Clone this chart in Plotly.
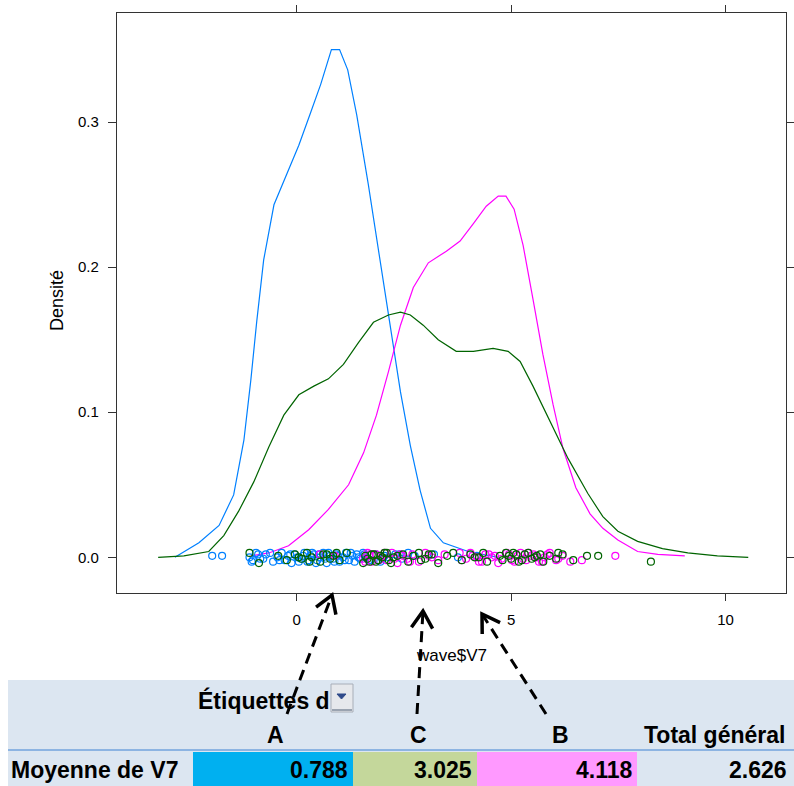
import math
import plotly.graph_objects as go

# ---------------- data ----------------
# density curves (x, density)
A_dx = [-2.84, -2.28, -1.81, -1.47, -1.23, -1.07, -0.93, -0.77, -0.53, -0.19,
        0.05, 0.33, 0.56, 0.81, 1.00, 1.19, 1.40, 1.67, 1.95, 2.19,
        2.42, 2.65, 2.88, 3.12, 3.42, 4.00, 4.70]
A_dy = [0.000, 0.010, 0.022, 0.043, 0.081, 0.122, 0.163, 0.205, 0.243, 0.267,
        0.284, 0.307, 0.326, 0.350, 0.350, 0.336, 0.305, 0.257, 0.203, 0.157,
        0.114, 0.077, 0.046, 0.020, 0.010, 0.004, 0.000]

B_dx = [-1.07, -0.65, -0.19, 0.28, 0.74, 1.21, 1.56, 1.86, 2.14, 2.42,
        2.72, 3.07, 3.49, 3.81, 4.12, 4.42, 4.70, 4.88, 5.07, 5.28,
        5.51, 5.74, 5.98, 6.21, 6.51, 6.84, 7.14, 7.49, 7.95, 8.42, 9.05]
B_dy = [0.001, 0.003, 0.008, 0.019, 0.033, 0.050, 0.072, 0.098, 0.128, 0.160,
        0.186, 0.203, 0.211, 0.218, 0.230, 0.242, 0.249, 0.249, 0.240, 0.215,
        0.178, 0.140, 0.105, 0.075, 0.048, 0.030, 0.020, 0.012, 0.004, 0.002, 0.001]

C_dx = [-3.23, -2.63, -2.05, -1.70, -1.35, -1.00, -0.65, -0.30, 0.05, 0.40,
        0.74, 1.09, 1.44, 1.79, 2.14, 2.42, 2.65, 2.95, 3.30, 3.72,
        4.12, 4.58, 4.93, 5.21, 5.51, 5.86, 6.33, 6.79, 7.14, 7.49,
        7.95, 8.53, 9.12, 9.81, 10.53]
C_dy = [0.000, 0.001, 0.004, 0.015, 0.032, 0.052, 0.076, 0.098, 0.112, 0.118,
        0.123, 0.133, 0.148, 0.162, 0.167, 0.169, 0.167, 0.160, 0.150, 0.142,
        0.142, 0.144, 0.142, 0.135, 0.118, 0.097, 0.068, 0.044, 0.028, 0.018,
        0.011, 0.006, 0.003, 0.001, 0.000]

# jittered rug points (x, y)
A_px = [-1.97, -1.74, -1.10, -1.02, -0.95, -0.85, -0.72, -0.55, -0.45, -0.35,
        -0.28, -0.20, -0.12, -0.05, 0.02, 0.10, 0.18, 0.25, 0.32, 0.40,
        0.48, 0.55, 0.62, 0.70, 0.78, 0.85, 0.92, 1.00, 1.08, 1.15,
        1.22, 1.30, 1.40, 1.48, 1.55, 1.62, 1.72, 1.85, 1.95, 2.05,
        2.15, 2.30, 2.45, 2.60, 2.75, 3.20, 3.76, 4.20,
        -1.05, -0.90, -0.78, -0.62, -0.40, -0.15, 0.05, 0.15, 0.28, 0.36,
        0.45, 0.52, 0.66, 0.74, 0.88, 0.96, 1.12, 1.26, 1.35, 1.44,
        1.58, 1.68, 1.80, 2.00, 2.40]
A_py = [0.001, 0.001, 0.000, -0.002, 0.003, -0.001, 0.002, -0.003, 0.000, 0.003,
        -0.002, 0.001, -0.004, 0.002, 0.000, -0.001, 0.003, -0.003, 0.001, 0.002,
        -0.002, 0.000, 0.003, -0.004, 0.001, -0.001, 0.002, -0.003, 0.000, 0.003,
        -0.002, 0.001, 0.002, -0.001, 0.003, 0.000, -0.002, 0.002, -0.003, 0.001,
        0.000, 0.002, -0.001, 0.003, 0.001, 0.002, 0.000, 0.001,
        -0.003, 0.002, -0.001, 0.003, -0.002, 0.002, -0.003, 0.001, -0.002, 0.003,
        -0.004, 0.002, -0.001, 0.003, -0.003, 0.001, -0.002, 0.003, -0.003, 0.000,
        0.002, -0.002, 0.001, -0.001, 0.002]

B_px = [0.54, 0.89, 1.55, 1.65, 1.75, 1.85, 1.98, 2.10, 2.22, 2.35,
        2.48, 2.58, 2.70, 2.85, 3.00, 3.15, 3.30, 3.45, 3.80, 3.95,
        4.10, 4.25, 4.40, 4.55, 4.70, 4.90, 5.02, 5.15, 5.28, 5.40,
        5.52, 5.65, 5.78, 5.90, 6.05, 6.20, 6.38, 6.65, 7.43,
        1.60, 1.70, 1.80, 1.92, 2.05, 2.28, 2.42, 2.64, 3.08, 3.85,
        4.05, 4.20, 4.32, 4.48, 4.62, 4.78, 4.95, 5.08, 5.22, 5.35,
        5.46, 5.60, 5.72, 5.85, 6.10]
B_py = [0.002, 0.001, -0.001, 0.003, -0.003, 0.002, 0.000, -0.002, 0.003, -0.004,
        0.001, -0.001, 0.002, -0.003, 0.003, 0.000, -0.002, 0.002, 0.003, -0.001,
        0.001, -0.003, 0.002, 0.000, -0.004, 0.003, -0.002, 0.001, -0.001, 0.003,
        0.002, -0.003, 0.000, 0.003, -0.002, 0.001, -0.003, -0.002, 0.001,
        -0.003, 0.002, 0.001, -0.002, 0.003, -0.001, 0.002, -0.003, 0.001, -0.002,
        0.003, 0.000, -0.003, 0.002, 0.001, -0.001, 0.002, -0.003, 0.003, -0.002,
        0.001, 0.000, -0.003, 0.002, -0.001]

C_px = [-1.10, -0.88, -0.43, -0.23, -0.04, 0.12, 0.24, 0.35, 0.55, 0.70,
        0.85, 1.00, 1.17, 1.55, 1.65, 1.75, 1.85, 1.95, 2.05, 2.15,
        2.26, 2.48, 2.60, 2.72, 2.85, 3.00, 3.15, 3.30, 3.51, 3.65,
        3.85, 4.05, 4.25, 4.44, 4.74, 4.88, 5.00, 5.12, 5.25, 5.40,
        5.55, 5.68, 5.75, 5.90, 6.05, 6.20, 6.45, 6.77, 7.03, 8.26,
        0.05, 0.30, 0.62, 0.78, 0.93, 1.60, 1.70, 1.80, 1.90, 2.00,
        2.10, 2.20, 2.35, 2.90, 3.08, 4.15, 4.35, 4.80, 4.95, 5.05,
        5.18, 5.32, 5.48, 5.60, 6.10]
C_py = [0.003, -0.004, 0.001, -0.002, 0.002, -0.001, 0.003, 0.000, -0.003, 0.002,
        0.001, -0.002, 0.003, -0.004, -0.001, 0.002, -0.003, 0.001, 0.003, -0.002,
        0.000, 0.002, -0.003, 0.001, 0.003, -0.001, 0.002, -0.004, 0.001, 0.003,
        -0.002, 0.002, 0.000, -0.003, 0.001, 0.003, -0.001, 0.002, -0.002, 0.003,
        0.000, 0.002, -0.003, 0.001, -0.001, 0.002, -0.002, 0.001, 0.001, -0.003,
        0.000, -0.003, 0.002, -0.001, 0.003, 0.001, -0.003, 0.002, -0.002, 0.000,
        0.003, -0.004, 0.001, -0.002, 0.002, 0.000, 0.003, -0.002, 0.001, 0.003,
        -0.003, 0.002, -0.001, 0.001, 0.003]

x_ticks = [0, 5, 10]
y_ticks = [0.0, 0.1, 0.2, 0.3]
y_ticktext = ["0.0", "0.1", "0.2", "0.3"]

table_cols = ["A", "C", "B", "Total général"]
table_means = [0.788, 3.025, 4.118, 2.626]
table_row_label = "Moyenne de V7"
table_header = "Étiquettes d"

COL_A = "#0080ff"
COL_B = "#ff00ff"
COL_C = "#006400"

# ---------------- figure ----------------
W, H = 794, 786


def X(px):
    return px / W


def Y(py):
    return 1 - py / H


fig = go.Figure()

for name, dx, dy, col in [("A", A_dx, A_dy, COL_A), ("B", B_dx, B_dy, COL_B), ("C", C_dx, C_dy, COL_C)]:
    fig.add_trace(go.Scatter(x=dx, y=dy, mode="lines", name=name,
                             line=dict(color=col, width=1.2), showlegend=False,
                             hoverinfo="skip"))

for name, px, py, col in [("A", A_px, A_py, COL_A), ("B", B_px, B_py, COL_B), ("C", C_px, C_py, COL_C)]:
    fig.add_trace(go.Scatter(x=px, y=py, mode="markers", name=name,
                             marker=dict(symbol="circle-open", size=7, color=col,
                                         line=dict(width=1.2, color=col)),
                             showlegend=False, hoverinfo="skip"))

axis_font = dict(family="Liberation Sans, Arial, sans-serif", size=15, color="#000000")

fig.update_xaxes(domain=[X(117), X(786)], range=[-4.19, 11.41],
                 tickvals=x_ticks, ticks="outside", ticklen=7, tickwidth=1,
                 tickcolor="#333333", showline=True, linecolor="#333333", linewidth=1.3,
                 mirror="ticks", showgrid=False, zeroline=False, tickfont=axis_font,
                 ticklabelstandoff=6)
fig.update_yaxes(domain=[Y(593), Y(12.7)], range=[-0.0246, 0.3754],
                 tickvals=y_ticks, ticktext=y_ticktext, ticks="outside", ticklen=8,
                 tickwidth=1, tickcolor="#333333", showline=True, linecolor="#333333",
                 linewidth=1.3, mirror="ticks", showgrid=False, zeroline=False,
                 tickfont=axis_font, ticklabelstandoff=6)

shapes = []
annotations = []

# axis titles
annotations.append(dict(x=X(57), y=Y(301), xref="paper", yref="paper", text="Densité",
                        textangle=-90, showarrow=False, xanchor="center", yanchor="middle",
                        font=dict(family="Liberation Sans, Arial, sans-serif", size=18, color="#000")))
annotations.append(dict(x=X(451), y=Y(655), xref="paper", yref="paper", text="wave$V7",
                        showarrow=False, xanchor="center", yanchor="middle",
                        font=dict(family="Liberation Sans, Arial, sans-serif", size=17, color="#000")))

# table background
shapes.append(dict(type="rect", xref="paper", yref="paper", x0=X(8), x1=X(794), y0=Y(786), y1=Y(680),
                   fillcolor="#DCE6F1", line=dict(width=0), layer="below"))
# coloured cells
cell_edges = [193, 353, 477, 637]
cell_cols = ["#00B0F0", "#C4D79B", "#FF99FF"]
for i, c in enumerate(cell_cols):
    shapes.append(dict(type="rect", xref="paper", yref="paper", x0=X(cell_edges[i]), x1=X(cell_edges[i + 1]),
                       y0=Y(786), y1=Y(752), fillcolor=c, line=dict(width=0), layer="below"))
# separator line
shapes.append(dict(type="line", xref="paper", yref="paper", x0=X(8), x1=X(794), y0=Y(750), y1=Y(750),
                   line=dict(color="#8DB4E2", width=2)))

tfont = dict(family="Liberation Sans, Arial, sans-serif", size=23, color="#000000")
annotations.append(dict(x=X(196), y=Y(700), xref="paper", yref="paper", text="<b>%s</b>" % table_header,
                        showarrow=False, xanchor="left", yanchor="middle", font=tfont))
head_x = [275, 418, 560, 787]
for i, (t, hx) in enumerate(zip(table_cols, head_x)):
    annotations.append(dict(x=X(hx), y=Y(735), xref="paper", yref="paper", text="<b>%s</b>" % t,
                            showarrow=False, xanchor="right" if i == 3 else "center",
                            yanchor="middle", font=tfont))
annotations.append(dict(x=X(9), y=Y(770), xref="paper", yref="paper", text="<b>%s</b>" % table_row_label,
                        showarrow=False, xanchor="left", yanchor="middle", font=tfont))
val_x = [350, 474, 634, 789]
for v, vx in zip(table_means, val_x):
    annotations.append(dict(x=X(vx), y=Y(770), xref="paper", yref="paper", text="<b>%.3f</b>" % v,
                            showarrow=False, xanchor="right", yanchor="middle", font=tfont))

# dropdown button
shapes.append(dict(type="rect", xref="paper", yref="paper", x0=X(331), x1=X(353), y0=Y(712), y1=Y(684),
                   fillcolor="#E6E8EC", line=dict(color="#A8AEB8", width=1)))
shapes.append(dict(type="line", xref="paper", yref="paper", x0=X(332), x1=X(352), y0=Y(710), y1=Y(710),
                   line=dict(color="#9AA3B0", width=2)))
shapes.append(dict(type="path", xref="paper", yref="paper",
                   path="M %f %f L %f %f L %f %f Z" % (X(337), Y(694), X(346), Y(694), X(341.5), Y(699)),
                   fillcolor="#2F4A8A", line=dict(color="#2F4A8A", width=1)))

# dashed arrows
arrows = [((287, 714), (332, 595)), ((417, 714), (423, 611)), ((546, 714), (482, 614))]
for (tx, ty), (hx, hy) in arrows:
    shapes.append(dict(type="line", xref="paper", yref="paper", x0=X(tx), y0=Y(ty), x1=X(hx), y1=Y(hy),
                       line=dict(color="#000000", width=3, dash="11px,7px")))
    dxp, dyp = tx - hx, ty - hy
    L = math.hypot(dxp, dyp)
    ux, uy = dxp / L, dyp / L
    pts = []
    for ang in (math.radians(32), -math.radians(32)):
        cx = ux * math.cos(ang) - uy * math.sin(ang)
        cy = ux * math.sin(ang) + uy * math.cos(ang)
        pts.append((hx + 20 * cx, hy + 20 * cy))
    shapes.append(dict(type="path", xref="paper", yref="paper",
                       path="M %f %f L %f %f L %f %f" % (X(pts[0][0]), Y(pts[0][1]), X(hx), Y(hy),
                                                          X(pts[1][0]), Y(pts[1][1])),
                       line=dict(color="#000000", width=3.5)))

fig.update_layout(width=W, height=H, margin=dict(l=0, r=0, t=0, b=0),
                  paper_bgcolor="white", plot_bgcolor="white",
                  shapes=shapes, annotations=annotations, showlegend=False)

fig.write_html("out.html", config={"displayModeBar": False},
               post_script="document.body.style.margin='0';document.body.style.padding='0';"
                           "document.body.style.overflow='hidden';")
